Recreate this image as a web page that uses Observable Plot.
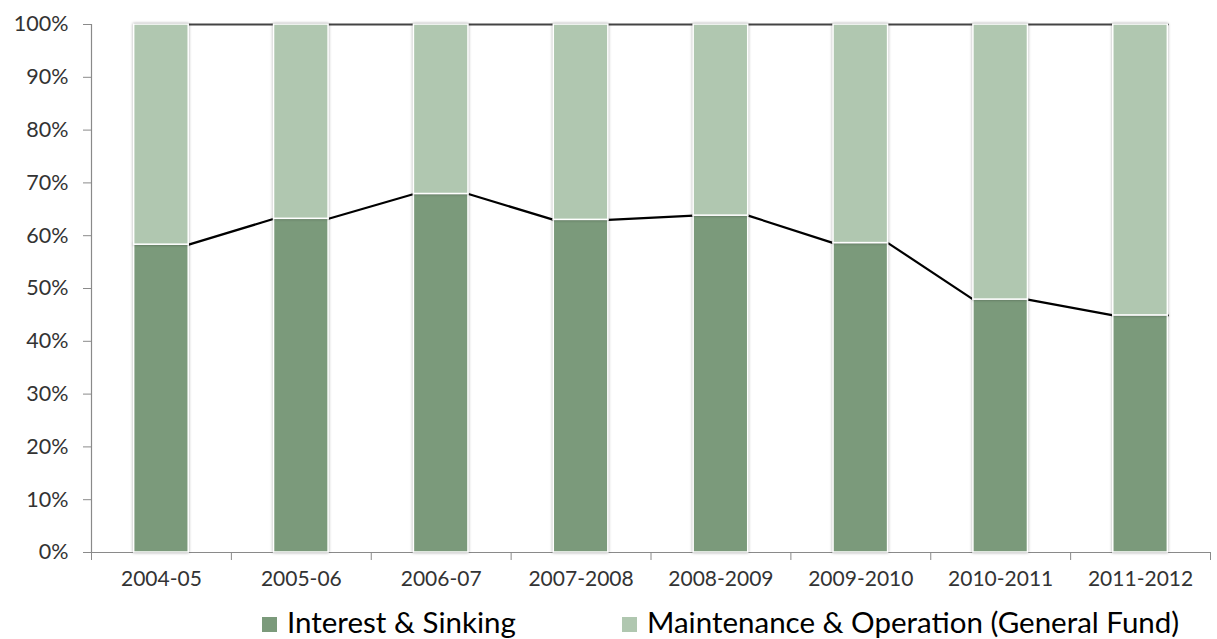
<!DOCTYPE html>
<html><head><meta charset="utf-8">
<script src="https://cdn.jsdelivr.net/npm/d3@7"></script>
<script src="https://cdn.jsdelivr.net/npm/@observablehq/plot@0.6"></script>
<style>
body{margin:0;background:#fff;font-family:Lato,sans-serif;width:1217px;height:639px;overflow:hidden;}
#chart svg g.bars rect{filter:drop-shadow(0 0 1.6px rgba(0,0,0,0.35));}
.legend{position:relative;height:39px;font-family:Lato,sans-serif;font-size:29.5px;color:#000;}
.legend .item{position:absolute;top:4px;display:flex;align-items:center;white-space:nowrap;}
.legend .sw{display:inline-block;width:15px;height:15px;margin-right:10px;margin-top:6px;}
</style></head><body>
<div id="chart"></div>
<div class="legend" id="legend"></div>
<script>
const years = ["2004-05","2005-06","2006-07","2007-2008","2008-2009","2009-2010","2010-2011","2011-2012"];
const interest = [58.3, 63.2, 67.9, 63.0, 63.8, 58.6, 47.9, 44.9];
const maintenance = [41.7, 36.8, 32.1, 37.0, 36.2, 41.4, 52.1, 55.1];
const seriesNames = ["Interest & Sinking", "Maintenance & Operation (General Fund)"];
const seriesColors = ["#7b9a7b", "#b0c7b0"];
const yTicks = [0,10,20,30,40,50,60,70,80,90,100];

const hw = 0.195;
const rows = years.map((yr, i) => ({i, yr, a: interest[i], b: maintenance[i]}));
const linePts = rows.flatMap(d => [{x: d.i - hw, y: d.a}, {x: d.i + hw, y: d.a}]);
const topPts = rows.flatMap(d => [{x: d.i - hw, y: d.a + d.b}, {x: d.i + hw, y: d.a + d.b}]);
const axisGray = "#8a8a8a";
const textGray = "#333";

const chart = Plot.plot({
  width: 1217, height: 600,
  marginLeft: 91, marginRight: 7, marginTop: 24, marginBottom: 48,
  style: {fontFamily: "Lato, sans-serif", background: "#fff"},
  x: {domain: [-0.5, 7.5]},
  y: {domain: [0, 100]},
  marks: [
    Plot.ruleY([0], {stroke: axisGray, strokeWidth: 1.2}),
    Plot.ruleX([-0.5], {stroke: axisGray, strokeWidth: 1.2}),
    Plot.axisY({ticks: yTicks, tickFormat: d => d + "%", tickSize: 8, tickPadding: 15, fontSize: 21.5, stroke: axisGray, fill: textGray, label: null}),
    Plot.axisX({ticks: d3.range(-0.5, 8, 1), tickFormat: () => "", tickSize: 8, stroke: axisGray, label: null}),
    Plot.axisX({ticks: d3.range(0, 8, 1), tickFormat: i => years[i], tickSize: 0, tickPadding: 19, fontSize: 21, fill: textGray, label: null}),
    Plot.line(topPts, {x: "x", y: "y", stroke: "#444", strokeWidth: 2}),
    Plot.line(linePts, {x: "x", y: "y", stroke: "#000", strokeWidth: 2.2}),
    Plot.rectY(rows, {x1: d => d.i - hw, x2: d => d.i + hw, y1: 0, y2: d => d.a, fill: seriesColors[0], stroke: "#fff", strokeWidth: 1.5}),
    Plot.rectY(rows, {x1: d => d.i - hw, x2: d => d.i + hw, y1: d => d.a, y2: d => d.a + d.b, fill: seriesColors[1], stroke: "#fff", strokeWidth: 1.5})
  ]
});
document.getElementById("chart").appendChild(chart);
chart.querySelectorAll('g[aria-label="rect"]').forEach(g => g.classList.add("bars"));

const legend = document.getElementById("legend");
const lefts = [262, 622];
seriesNames.forEach((n, k) => {
  const it = document.createElement("div");
  it.className = "item";
  it.style.left = lefts[k] + "px";
  it.innerHTML = `<span class="sw" style="background:${seriesColors[k]}"></span><span>${n.replace(/&/g,"&amp;")}</span>`;
  legend.appendChild(it);
});
</script>
</body></html>
